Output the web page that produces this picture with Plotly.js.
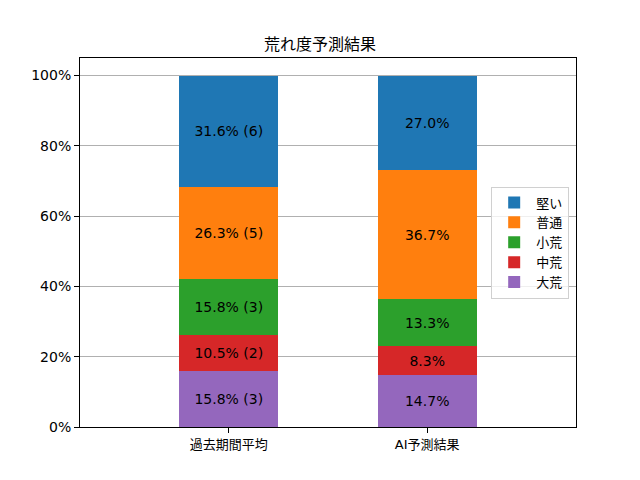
<!DOCTYPE html>
<html>
<head>
<meta charset="utf-8">
<script src="https://cdn.plot.ly/plotly-3.0.1.min.js"></script>
<style>body{margin:0}</style>
</head>
<body>
<div id="chart" style="width:640px;height:480px"></div>
<script>
const categories = ['過去期間平均', 'AI予測結果']
const seriesNames = ['大荒', '中荒', '小荒', '普通', '堅い']
const colors = ['#9467bd', '#d62728', '#2ca02c', '#ff7f0e', '#1f77b4']
const pastPct = [15.8, 10.5, 15.8, 26.3, 31.6]
const pastCount = [3, 2, 3, 5, 6]
const aiPct = [14.7, 8.3, 13.3, 36.7, 27.0]

const font = 'DejaVu Sans, Noto Sans CJK JP, sans-serif'

let traces = seriesNames.map((name, i) => ({
  type: 'bar',
  name,
  x: [0, 1],
  y: [pastPct[i], aiPct[i]],
  width: 0.5,
  marker: {color: colors[i], line: {width: 0}},
  text: [pastPct[i].toFixed(1) + '% (' + pastCount[i] + ')', aiPct[i].toFixed(1) + '%'],
  textposition: 'inside',
  insidetextanchor: 'middle',
  textfont: {color: '#000', size: 14, family: font},
  hoverinfo: 'none',
}))

let layout = {
  barmode: 'stack',
  width: 640,
  height: 480,
  margin: {l: 80, r: 64, t: 58, b: 53},
  paper_bgcolor: '#fff',
  plot_bgcolor: '#fff',
  font: {family: font, size: 14, color: '#000'},
  title: {text: '荒れ度予測結果', x: 0.5, xanchor: 'center', y: 0.908, yanchor: 'middle', font: {size: 16, family: font}},
  xaxis: {
    range: [-0.75, 1.75],
    tickvals: [0, 1],
    ticktext: categories,
    ticks: 'outside', ticklen: 5, tickcolor: '#000',
    showline: true, linecolor: '#000', linewidth: 1, mirror: true,
    showgrid: false, zeroline: false,
    tickfont: {size: 13},
  },
  yaxis: {
    range: [0, 105],
    tickvals: [0, 20, 40, 60, 80, 100],
    ticktext: ['0%', '20%', '40%', '60%', '80%', '100%'],
    ticks: 'outside', ticklen: 5, tickcolor: '#000',
    showline: true, linecolor: '#000', linewidth: 1, mirror: true,
    showgrid: true, gridcolor: '#b0b0b0', gridwidth: 1, zeroline: false,
    tickfont: {size: 14},
  },
  legend: {
    x: 0.829, xanchor: 'left', y: 0.5, yanchor: 'middle',
    traceorder: 'reversed',
    bgcolor: 'rgba(255,255,255,0.8)',
    bordercolor: '#d0d0d0', borderwidth: 1,
    font: {size: 13},
    itemwidth: 34,
  },
  showlegend: true,
}

Plotly.newPlot('chart', traces, layout, {staticPlot: true})
</script>
</body>
</html>
